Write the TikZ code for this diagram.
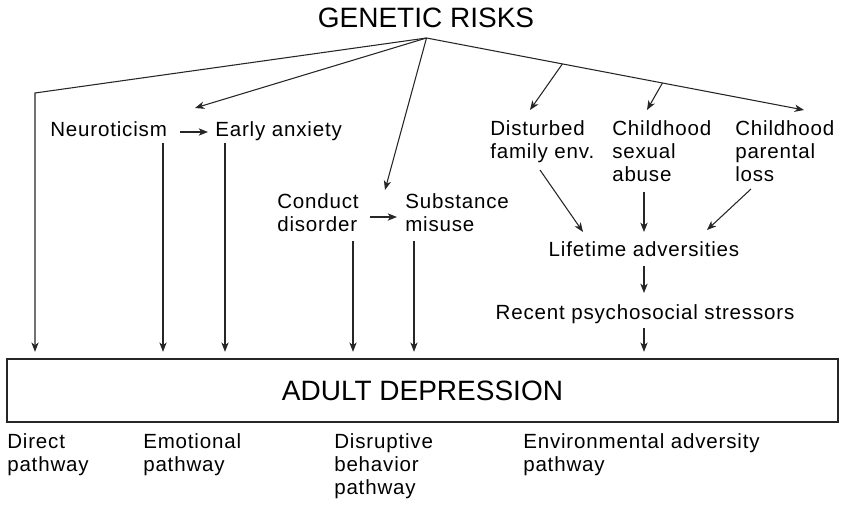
\documentclass[tikz,border=0pt]{standalone}
\usepackage{fontspec}
\setmainfont{Liberation Sans}
\newfontfamily\smallfam[LetterSpace=4]{Liberation Sans}
\usetikzlibrary{arrows.meta,calc}
\tikzset{
  lbl/.style={inner sep=0pt, anchor=base west, align=left,
    font={\smallfam\fontsize{15.4pt}{17.25pt}\selectfont}},
  big/.style={inner sep=0pt, font={\fontsize{21pt}{25pt}\selectfont}},
  conn/.style={line width=0.8pt, black!85},
  arr/.style={conn, -{Stealth[length=7pt,width=5.5pt,inset=2pt]}},
}
\begin{document}
\begin{tikzpicture}[x=0.75pt,y=-0.75pt]
\useasboundingbox (0,0) rectangle (844,505);
% titles
\node[big, anchor=base] (gen) at (426,28) {GENETIC RISKS};
\node[big, draw, line width=0.8pt, draw=black!85, text=black, minimum width=623.25pt, minimum height=47.25pt] (adult) at (422.5,390.5) {ADULT DEPRESSION};
% text nodes (multi-line nodes are placed at the baseline of their last line)
\node[lbl] (neur) at (50,137) {Neuroticism};
\node[lbl] (early) at (215,137) {Early anxiety};
\node[lbl] (cond) at (277,232) {Conduct\\disorder};
\node[lbl] (subs) at (405,232) {Substance\\misuse};
\node[lbl] (dist) at (490,159) {Disturbed\\family env.};
\node[lbl] (csa) at (612,182) {Childhood\\sexual\\abuse};
\node[lbl] (cpl) at (735,182) {Childhood\\parental\\loss};
\node[lbl, anchor=base] (life) at (644,257) {Lifetime adversities};
\node[lbl, anchor=base] (rec) at (645,320) {Recent psychosocial stressors};
\node[lbl] (pdir) at (7,472) {Direct\\pathway};
\node[lbl] (pemo) at (143,472) {Emotional\\pathway};
\node[lbl] (pdis) at (334,495) {Disruptive\\behavior\\pathway};
\node[lbl] (penv) at (523,472) {Environmental adversity\\pathway};
% coordinates
\coordinate (apex) at (426.5,38);
\coordinate (dcorner) at (35,93);
\coordinate (neartip) at (195,108);
\coordinate (condtip) at (385,190);
\coordinate (cpltip) at (804,110);
\coordinate (b1) at ($(apex)!0.36!(cpltip)$);
\coordinate (b2) at ($(apex)!0.625!(cpltip)$);
\coordinate (disttip) at (530,110);
\coordinate (csatip) at (647,110);
\coordinate (xN) at (163,143);
\coordinate (xE) at (225,143);
\coordinate (xC) at (353,241);
\coordinate (xS) at (414,241);
\coordinate (xR) at (644,328);
% genetic arrows
\draw[arr, shorten >=5pt] (apex) -- (dcorner) -- (dcorner |- adult.north);
\draw[arr] (apex) -- (neartip);
\draw[arr] (apex) -- (condtip);
\draw[arr] (apex) -- (cpltip);
\draw[arr] (b1) -- (disttip);
\draw[arr] (b2) -- (csatip);
% emotional
\draw[arr] (180,132) -- (208,132);
\draw[arr, shorten >=5pt] (xN) -- (xN |- adult.north);
\draw[arr, shorten >=5pt] (xE) -- (xE |- adult.north);
% disruptive
\draw[arr] (370,217) -- (397,217);
\draw[arr, shorten >=5pt] (xC) -- (xC |- adult.north);
\draw[arr, shorten >=5pt] (xS) -- (xS |- adult.north);
% environmental
\draw[arr] (540,170) -- (583,232);
\draw[arr] (644,192) -- (644,232);
\draw[arr] (751,189) -- (707,230);
\draw[arr] (644,266) -- (644,293);
\draw[arr, shorten >=5pt] (xR) -- (xR |- adult.north);
\end{tikzpicture}
\end{document}
